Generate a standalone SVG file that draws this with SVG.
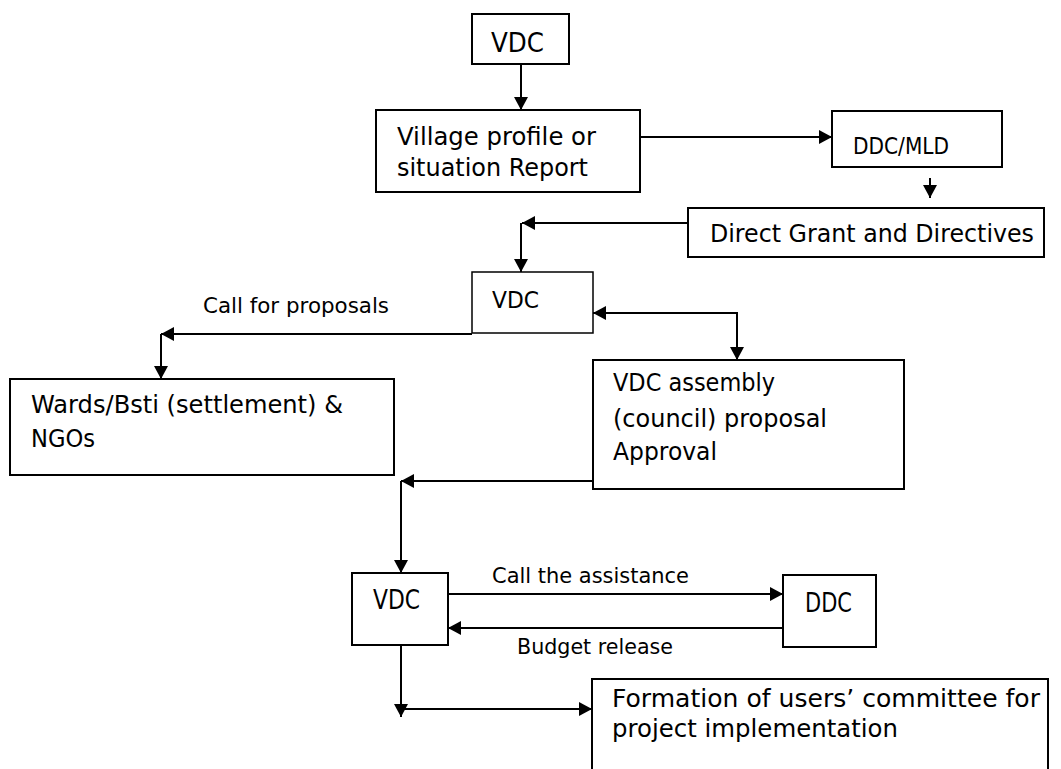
<svg xmlns="http://www.w3.org/2000/svg" width="1061" height="769" viewBox="0 0 1061 769">
<defs>
<marker id="ah" markerUnits="userSpaceOnUse" markerWidth="15" markerHeight="15" refX="13" refY="7" orient="auto">
<path d="M0,0 L13,7 L0,14 z" fill="#000"/>
</marker>
<style>
.box{fill:#fff;stroke:#000;stroke-width:2}
.t{font-family:"DejaVu Sans","Liberation Sans",sans-serif;font-size:25px;fill:#000}
.big{font-size:26px}
.mid{font-size:23px}
.lbl{font-size:21px}
.c{fill:none;stroke:#000;stroke-width:2}
.a{marker-end:url(#ah)}
</style>
</defs>
<rect width="1061" height="769" fill="#fff"/>
<g id="connectors">
<line class="c a" x1="521" y1="64" x2="521" y2="110"/>
<line class="c a" x1="640" y1="137" x2="832" y2="137"/>
<line class="c a" x1="930" y1="178" x2="930" y2="198"/>
<line class="c a" x1="688" y1="223" x2="522" y2="223"/>
<line class="c a" x1="521" y1="223" x2="521" y2="272"/>
<line class="c a" x1="472" y1="334" x2="161" y2="334"/>
<line class="c a" x1="161" y1="334" x2="161" y2="379"/>
<polyline class="c a" points="737,313 593,313"/>
<line class="c a" x1="737" y1="312" x2="737" y2="360"/>
<line class="c a" x1="593" y1="481" x2="401" y2="481"/>
<line class="c a" x1="401" y1="481" x2="401" y2="573"/>
<line class="c a" x1="448" y1="594" x2="783" y2="594"/>
<line class="c a" x1="783" y1="628" x2="448" y2="628"/>
<line class="c a" x1="401" y1="645" x2="401" y2="717"/>
<line class="c a" x1="401" y1="709" x2="592" y2="709"/>
<text class="t lbl" x="203" y="313" textLength="186" lengthAdjust="spacingAndGlyphs">Call for proposals</text>
<text class="t lbl" x="492" y="583" textLength="197" lengthAdjust="spacingAndGlyphs">Call the assistance</text>
<text class="t lbl" x="517" y="654" textLength="156" lengthAdjust="spacingAndGlyphs">Budget release</text>
</g>
<g id="vdc-top">
<rect class="box" x="472" y="14" width="97" height="50"/>
<text class="t big" x="491" y="52" textLength="53" lengthAdjust="spacingAndGlyphs">VDC</text>
</g>
<g id="village-profile">
<rect class="box" x="376" y="110" width="264" height="82"/>
<text class="t" x="397" y="145" textLength="199" lengthAdjust="spacingAndGlyphs">Village profile or</text>
<text class="t" x="397" y="176" textLength="191" lengthAdjust="spacingAndGlyphs">situation Report</text>
</g>
<g id="ddc-mld">
<rect class="box" x="832" y="111" width="170" height="56"/>
<text class="t mid" x="853" y="154" textLength="96" lengthAdjust="spacingAndGlyphs">DDC/MLD</text>
</g>
<g id="direct-grant">
<rect class="box" x="688" y="208" width="356" height="49"/>
<text class="t" x="710" y="242" textLength="324" lengthAdjust="spacingAndGlyphs">Direct Grant and Directives</text>
</g>
<g id="vdc-middle">
<rect class="box" x="472" y="272" width="121" height="61" style="stroke-width:1.5"/>
<text class="t mid" x="492" y="308" textLength="47" lengthAdjust="spacingAndGlyphs">VDC</text>
</g>
<g id="wards">
<rect class="box" x="10" y="379" width="384" height="96"/>
<text class="t" x="31" y="413" textLength="312" lengthAdjust="spacingAndGlyphs">Wards/Bsti (settlement) &amp;</text>
<text class="t" x="31" y="447" textLength="64" lengthAdjust="spacingAndGlyphs">NGOs</text>
</g>
<g id="vdc-assembly">
<rect class="box" x="593" y="360" width="311" height="129"/>
<text class="t" x="613" y="391" textLength="162" lengthAdjust="spacingAndGlyphs">VDC assembly</text>
<text class="t" x="613" y="427" textLength="214" lengthAdjust="spacingAndGlyphs">(council) proposal</text>
<text class="t" x="613" y="460" textLength="104" lengthAdjust="spacingAndGlyphs">Approval</text>
</g>
<g id="vdc-bottom">
<rect class="box" x="352" y="573" width="96" height="72"/>
<text class="t big" x="373" y="609" textLength="47" lengthAdjust="spacingAndGlyphs">VDC</text>
</g>
<g id="ddc">
<rect class="box" x="783" y="575" width="93" height="72"/>
<text class="t big" x="805" y="612" textLength="47" lengthAdjust="spacingAndGlyphs">DDC</text>
</g>
<g id="formation">
<rect class="box" x="592" y="679" width="456" height="100"/>
<text class="t" x="612" y="707" textLength="428" lengthAdjust="spacingAndGlyphs">Formation of users’ committee for</text>
<text class="t" x="612" y="737" textLength="286" lengthAdjust="spacingAndGlyphs">project implementation</text>
</g>
</svg>
